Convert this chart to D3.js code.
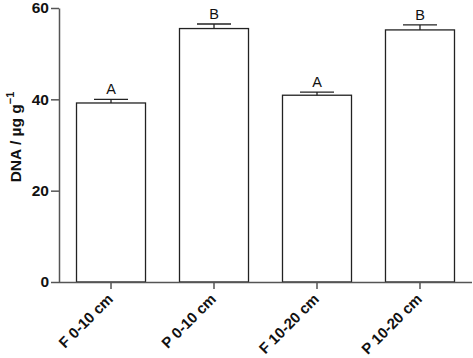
<!DOCTYPE html>
<html>
<head>
<meta charset="utf-8">
<script src="https://cdn.jsdelivr.net/npm/d3@7"></script>
<style>
  html, body { margin: 0; padding: 0; background: #fff; }
  svg { display: block; }
  text { font-family: "Liberation Sans", Arial, sans-serif; }
</style>
</head>
<body>
<div id="chart"></div>
<script>
const categories = ["F 0-10 cm", "P 0-10 cm", "F 10-20 cm", "P 10-20 cm"];
const values = [39.2, 55.5, 40.9, 55.2];
const errors = [0.8, 1.0, 0.7, 1.1];
const letters = ["A", "B", "A", "B"];
const yTicks = [0, 20, 40, 60];

const W = 473, H = 358;
const svg = d3.select("#chart").append("svg").attr("width", W).attr("height", H);

const x0 = 59, x1 = 472, yTop = 8, yBot = 282;
const x = d3.scaleBand().domain(categories).range([x0, x1]).paddingInner(0.33).paddingOuter(0.17);
const y = d3.scaleLinear().domain([0, 60]).range([yBot, yTop]);

const axisColor = "#555";
const barColor = "#222";

// bars
svg.selectAll("rect.bar").data(categories).enter().append("rect")
  .attr("class", "bar")
  .attr("x", d => x(d))
  .attr("y", (d, i) => y(values[i]))
  .attr("width", x.bandwidth())
  .attr("height", (d, i) => y(0) - y(values[i]))
  .attr("fill", "#fff")
  .attr("stroke", barColor)
  .attr("stroke-width", 1.3);

// error bars (upper only)
const capW = 34;
categories.forEach((c, i) => {
  const cx = x(c) + x.bandwidth() / 2;
  svg.append("line")
    .attr("x1", cx).attr("x2", cx)
    .attr("y1", y(values[i])).attr("y2", y(values[i] + errors[i]))
    .attr("stroke", barColor).attr("stroke-width", 1.3);
  svg.append("line")
    .attr("x1", cx - capW / 2).attr("x2", cx + capW / 2)
    .attr("y1", y(values[i] + errors[i])).attr("y2", y(values[i] + errors[i]))
    .attr("stroke", barColor).attr("stroke-width", 1.3);
  svg.append("text")
    .attr("x", cx).attr("y", y(values[i] + errors[i]) - 5)
    .attr("text-anchor", "middle")
    .attr("font-size", 14.5)
    .attr("fill", "#111")
    .text(letters[i]);
});

// y axis
const yAxis = svg.append("g").attr("transform", `translate(${x0},0)`)
  .call(d3.axisLeft(y).tickValues(yTicks).tickSize(8).tickSizeOuter(0).tickPadding(2));
yAxis.select(".domain").attr("stroke", axisColor).attr("stroke-width", 1.5);
yAxis.selectAll(".tick line").attr("stroke", axisColor).attr("stroke-width", 1.5);
yAxis.selectAll(".tick text")
  .attr("font-family", "'Liberation Sans', Arial, sans-serif")
  .attr("font-size", 15.5).attr("font-weight", "bold").attr("fill", "#111");

// x axis
const xAxis = svg.append("g").attr("transform", `translate(0,${yBot})`)
  .call(d3.axisBottom(x).tickSize(7).tickSizeOuter(0));
xAxis.select(".domain").attr("stroke", axisColor).attr("stroke-width", 1.5)
  .attr("d", `M${x0},0.5H${x1}`);
xAxis.selectAll(".tick line").attr("stroke", axisColor).attr("stroke-width", 1.5);
xAxis.selectAll(".tick text")
  .attr("font-family", "'Liberation Sans', Arial, sans-serif")
  .attr("font-size", 15).attr("font-weight", "bold").attr("fill", "#111")
  .attr("text-anchor", "end")
  .attr("dy", null)
  .attr("y", 0)
  .attr("transform", "translate(3,18) rotate(-45)");

// y label
const yl = svg.append("text")
  .attr("transform", `translate(21,137) rotate(-90)`)
  .attr("text-anchor", "middle")
  .attr("font-size", 15.5).attr("font-weight", "bold").attr("fill", "#111");
yl.append("tspan").text("DNA / µg g");
yl.append("tspan").attr("font-size", 11).attr("dy", -7).text("−1");
</script>
</body>
</html>
